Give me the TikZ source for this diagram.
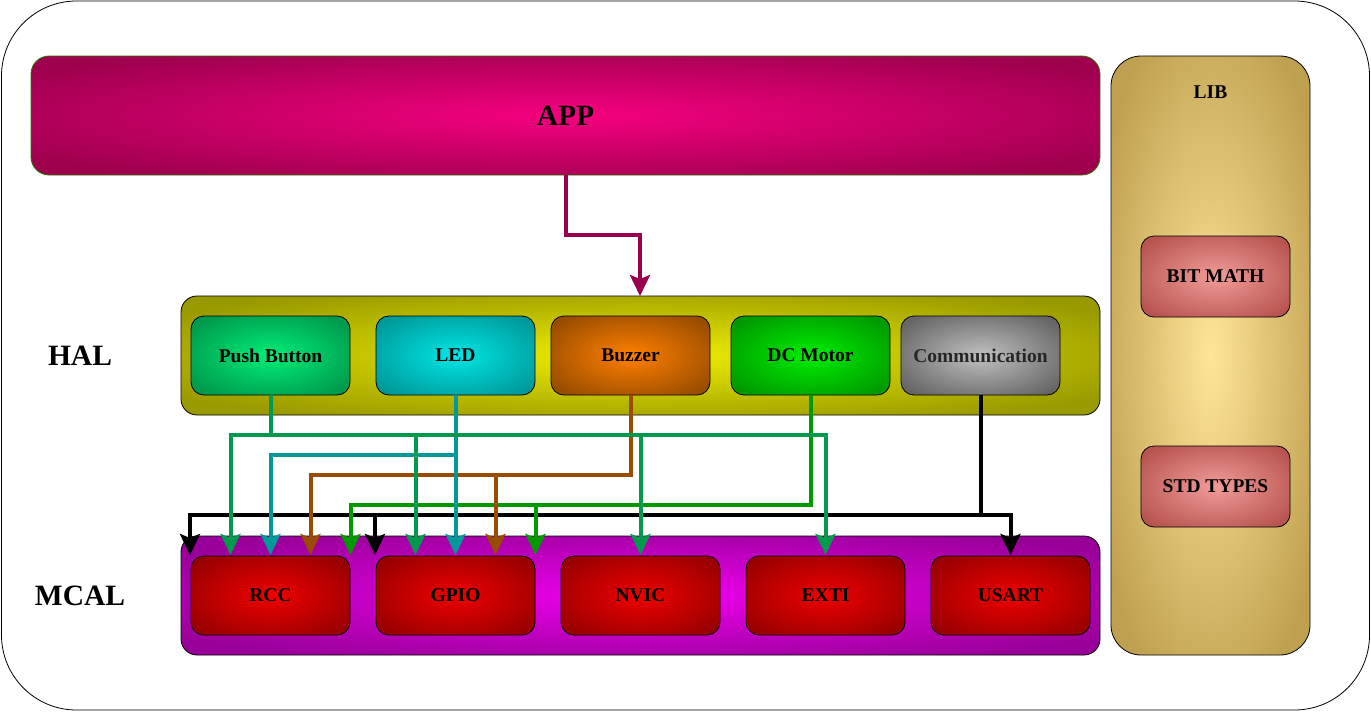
\documentclass[tikz,border=0pt]{standalone}
\usepackage{fontspec}
\setmainfont{Liberation Serif}
\usetikzlibrary{arrows.meta,calc}
\definecolor{appin}{HTML}{F5007F}\definecolor{appout}{HTML}{9E004E}\definecolor{appbd}{HTML}{2D7600}
\definecolor{libin}{HTML}{FFE599}\definecolor{libout}{HTML}{BFA050}
\definecolor{bmin}{HTML}{F19C99}\definecolor{bmout}{HTML}{B85450}
\definecolor{halin}{HTML}{EEEE00}\definecolor{halout}{HTML}{999900}
\definecolor{mcin}{HTML}{EE00EE}\definecolor{mcout}{HTML}{990099}
\definecolor{modin}{HTML}{EE0000}\definecolor{modout}{HTML}{990000}
\definecolor{pbin}{HTML}{00EE77}\definecolor{pbout}{HTML}{00994D}
\definecolor{ledin}{HTML}{00E6E6}\definecolor{ledout}{HTML}{009999}
\definecolor{bzin}{HTML}{FF8000}\definecolor{bzout}{HTML}{994C00}
\definecolor{dcin}{HTML}{00EE00}\definecolor{dcout}{HTML}{009900}
\definecolor{cmin}{HTML}{C0C0C0}\definecolor{cmout}{HTML}{666666}
\definecolor{appl}{HTML}{99004D}
\colorlet{gin}{white}\colorlet{gout}{black}
\pgfdeclareradialshading[gin,gout]{soft}{\pgfpoint{0bp}{0bp}}{color(0bp)=(gin); color(31bp)=(gout); color(50bp)=(gout)}
\newcommand\bigf{\fontsize{29.5}{31}\selectfont\bfseries}
\newcommand\smf{\fontsize{19.5}{21}\selectfont\bfseries}
\tikzset{
  grad/.style 2 args={/utils/exec={\colorlet{gin}{#1}\colorlet{gout}{#2}}, shade, shading=soft},
  box/.style={draw=black, line width=0.8pt, inner sep=0pt, outer sep=0pt, font=\smf},
  modbox/.style={box, rounded corners=13pt, minimum width=159pt, minimum height=79pt},
  conn/.style={line width=4pt},
  arr/.style={-{Stealth[length=21pt,width=20pt,inset=4pt]}},
}
\begin{document}
\begin{tikzpicture}[x=1pt,y=-1pt]
\useasboundingbox (0,0) rectangle (1371,712);
\node[draw=black, line width=0.8pt, rounded corners=75pt, minimum width=1368pt, minimum height=709pt, inner sep=0pt] (frame) at (685.5,355.5) {};
% APP
\node[box, draw=appbd, grad={appin}{appout}, rounded corners=18pt, minimum width=1069pt, minimum height=119pt, font=\bigf] (app) at (565.5,115.5) {APP};
% LIB
\node[box, grad={libin}{libout}, rounded corners=30pt, minimum width=199pt, minimum height=599pt] (lib) at (1210.5,355.5) {};
\node[font=\smf, inner sep=0pt] (libt) at ($(lib.north)+(0,36)$) {LIB};
\node[box, grad={bmin}{bmout}, rounded corners=13pt, minimum width=149pt, minimum height=81pt] (bitm) at (1215.5,276.5) {BIT MATH};
\node[box, grad={bmin}{bmout}, rounded corners=13pt, minimum width=149pt, minimum height=81pt] (stdt) at (1215.5,486.5) {STD TYPES};
% HAL
\node[font=\bigf, inner sep=0pt] (hallbl) at (80,356) {HAL};
\node[box, grad={halin}{halout}, rounded corners=16pt, minimum width=919pt, minimum height=119pt] (hal) at (640.5,355.5) {};
\node[modbox, grad={pbin}{pbout}] (pb) at (270.5,355.5) {Push Button};
\node[modbox, grad={ledin}{ledout}] (led) at (455.5,355.5) {LED};
\node[modbox, grad={bzin}{bzout}] (buz) at (630.5,355.5) {Buzzer};
\node[modbox, grad={dcin}{dcout}] (dcm) at (810.5,355.5) {DC Motor};
\node[modbox, grad={cmin}{cmout}, text=black!85] (com) at (980.5,355.5) {Communication};
% MCAL
\node[font=\bigf, inner sep=0pt] (mcallbl) at (80,596) {MCAL};
\node[box, grad={mcin}{mcout}, rounded corners=16pt, minimum width=919pt, minimum height=119pt] (mcal) at (640.5,595.5) {};
\node[modbox, grad={modin}{modout}] (rcc) at (270.5,595.5) {RCC};
\node[modbox, grad={modin}{modout}] (gpio) at (455.5,595.5) {GPIO};
\node[modbox, grad={modin}{modout}] (nvic) at (640.5,595.5) {NVIC};
\node[modbox, grad={modin}{modout}] (exti) at (825.5,595.5) {EXTI};
\node[modbox, grad={modin}{modout}] (usart) at (1010.5,595.5) {USART};
% bus levels and drop points
\coordinate (busPB) at ($(hal.south)+(0,20)$);
\coordinate (busLED) at ($(hal.south)+(0,40)$);
\coordinate (busBZ) at ($(hal.south)+(0,60)$);
\coordinate (busDC) at ($(hal.south)+(0,90)$);
\coordinate (busCM) at ($(hal.south)+(0,100)$);
\coordinate (r0) at ($(rcc.north west)+(-1,-1)$);
\coordinate (r1) at ($(rcc.north)+(-40,-1)$);
\coordinate (r2) at ($(rcc.north)+(0,-1)$);
\coordinate (r3) at ($(rcc.north)+(40,-1)$);
\coordinate (r4) at ($(rcc.north)+(80,-1)$);
\coordinate (g0) at ($(gpio.north west)+(-1,-1)$);
\coordinate (g1) at ($(gpio.north)+(-40,-1)$);
\coordinate (g2) at ($(gpio.north)+(0,-1)$);
\coordinate (g3) at ($(gpio.north)+(40,-1)$);
\coordinate (g4) at ($(gpio.north)+(80,-1)$);
\coordinate (n1) at ($(nvic.north)+(0,-1)$);
\coordinate (e1) at ($(exti.north)+(0,-1)$);
\coordinate (u1) at ($(usart.north)+(0,-1)$);
% APP -> HAL
\draw[conn, arr, appl] (app.south) -- ++(0,60) -| (hal.north -| 640,0);
% Communication (black)
\draw[conn, arr, black] (com.south) |- (r0 |- busCM) -- (r0);
\draw[conn, arr, black] (com.south) |- (g0 |- busCM) -- (g0);
\draw[conn, arr, black] (com.south) |- (u1 |- busCM) -- (u1);
% DC Motor
\draw[conn, arr, dcout] (dcm.south) |- (r4 |- busDC) -- (r4);
\draw[conn, arr, dcout] (dcm.south) |- (g4 |- busDC) -- (g4);
% Buzzer
\draw[conn, arr, bzout] (buz.south) |- (r3 |- busBZ) -- (r3);
\draw[conn, arr, bzout] (buz.south) |- (g3 |- busBZ) -- (g3);
% LED
\draw[conn, arr, ledout] (led.south) |- (r2 |- busLED) -- (r2);
\draw[conn, arr, ledout] (led.south) -- (g2);
% Push Button
\draw[conn, arr, pbout] (pb.south) |- (r1 |- busPB) -- (r1);
\draw[conn, arr, pbout] (pb.south) |- (g1 |- busPB) -- (g1);
\draw[conn, arr, pbout] (pb.south) |- (n1 |- busPB) -- (n1);
\draw[conn, arr, pbout] (pb.south) |- (e1 |- busPB) -- (e1);
\end{tikzpicture}
\end{document}
